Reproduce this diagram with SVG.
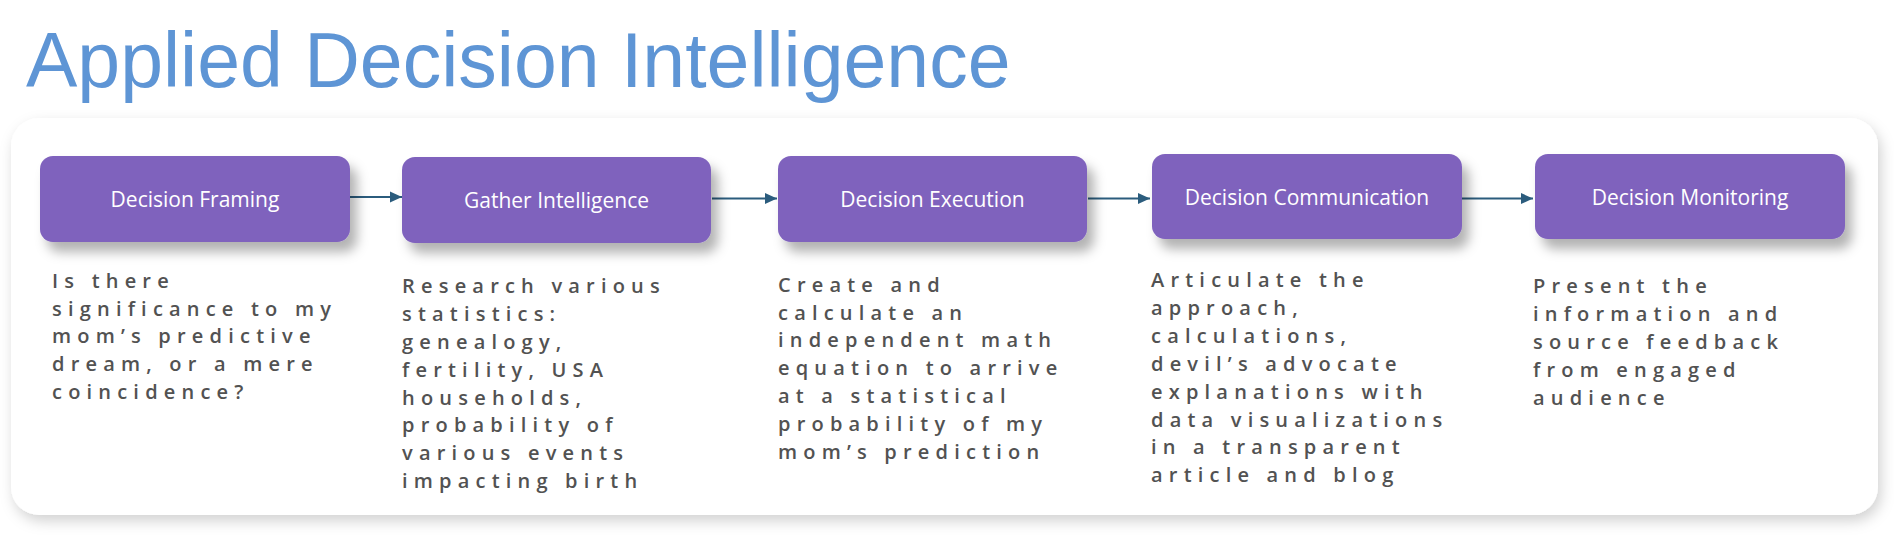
<svg xmlns="http://www.w3.org/2000/svg" width="1894" height="558" viewBox="0 0 1894 558">
<defs>
<filter id="panelShadow" x="-5%" y="-10%" width="110%" height="125%">
<feDropShadow dx="3" dy="6" stdDeviation="7" flood-color="#000" flood-opacity="0.18"/>
</filter>
<filter id="boxShadow" x="-10%" y="-20%" width="125%" height="160%">
<feDropShadow dx="7" dy="10" stdDeviation="6" flood-color="#000" flood-opacity="0.3"/>
</filter>
<marker id="arrow" viewBox="0 0 12 12" refX="12" refY="6" markerWidth="12" markerHeight="12" markerUnits="userSpaceOnUse" orient="auto">
<path d="M0,0.5 L12,6 L0,11.5 Z" fill="#2b5c7d"/>
</marker>
<style>
.title{font-family:"Liberation Sans",Arial,sans-serif;font-size:77px;fill:#5e95d5}
.box{fill:#7f62bd;filter:url(#boxShadow)}
.lbl{font-family:"Open Sans","Noto Sans",sans-serif;font-size:21px;font-weight:500;fill:#ffffff;text-anchor:middle}
.desc{font-family:"Open Sans","Noto Sans",sans-serif;font-size:20px;font-weight:600;letter-spacing:6.2px;fill:#525252}
.conn{stroke:#2b5c7d;stroke-width:2.2;fill:none;marker-end:url(#arrow)}
</style>
</defs>
<rect width="1894" height="558" fill="#ffffff"/>
<text class="title" x="26" y="87">Applied Decision Intelligence</text>
<rect x="11" y="118" width="1867" height="397" rx="28" ry="28" fill="#ffffff" filter="url(#panelShadow)"/>

<g id="connectors">
<line class="conn" x1="350" y1="197" x2="402" y2="197"/>
<line class="conn" x1="712" y1="198.5" x2="777" y2="198.5"/>
<line class="conn" x1="1088" y1="198.5" x2="1150" y2="198.5"/>
<line class="conn" x1="1462" y1="198.5" x2="1533" y2="198.5"/>
</g>

<g id="node-framing">
<rect class="box" x="40" y="156" width="310" height="86" rx="13"/>
<text class="lbl" x="195" y="206.5">Decision Framing</text>
<text class="desc" x="52" y="287.7"><tspan x="52">Is there</tspan><tspan x="52" dy="27.85">significance to my</tspan><tspan x="52" dy="27.85">mom’s predictive</tspan><tspan x="52" dy="27.85">dream, or a mere</tspan><tspan x="52" dy="27.85">coincidence?</tspan></text>
</g>

<g id="node-gather">
<rect class="box" x="402" y="157" width="309" height="86" rx="13"/>
<text class="lbl" x="556.5" y="208">Gather Intelligence</text>
<text class="desc" x="402" y="292.7"><tspan x="402">Research various</tspan><tspan x="402" dy="27.95">statistics:</tspan><tspan x="402" dy="27.95">genealogy,</tspan><tspan x="402" dy="27.95">fertility, USA</tspan><tspan x="402" dy="27.95">households,</tspan><tspan x="402" dy="27.95">probability of</tspan><tspan x="402" dy="27.95">various events</tspan><tspan x="402" dy="27.95">impacting birth</tspan></text>
</g>

<g id="node-execution">
<rect class="box" x="778" y="156" width="309" height="86" rx="13"/>
<text class="lbl" x="932.5" y="207">Decision Execution</text>
<text class="desc" x="778" y="291.7"><tspan x="778">Create and</tspan><tspan x="778" dy="27.85">calculate an</tspan><tspan x="778" dy="27.85">independent math</tspan><tspan x="778" dy="27.85">equation to arrive</tspan><tspan x="778" dy="27.85">at a statistical</tspan><tspan x="778" dy="27.85">probability of my</tspan><tspan x="778" dy="27.85">mom’s prediction</tspan></text>
</g>

<g id="node-communication">
<rect class="box" x="1152" y="154" width="310" height="85" rx="13"/>
<text class="lbl" x="1307" y="205">Decision Communication</text>
<text class="desc" x="1151" y="287.3"><tspan x="1151">Articulate the</tspan><tspan x="1151" dy="27.85">approach,</tspan><tspan x="1151" dy="27.85">calculations,</tspan><tspan x="1151" dy="27.85">devil’s advocate</tspan><tspan x="1151" dy="27.85">explanations with</tspan><tspan x="1151" dy="27.85">data visualizations</tspan><tspan x="1151" dy="27.85">in a transparent</tspan><tspan x="1151" dy="27.85">article and blog</tspan></text>
</g>

<g id="node-monitoring">
<rect class="box" x="1535" y="154" width="310" height="85" rx="13"/>
<text class="lbl" x="1690" y="205">Decision Monitoring</text>
<text class="desc" x="1533" y="293.3"><tspan x="1533">Present the</tspan><tspan x="1533" dy="27.95">information and</tspan><tspan x="1533" dy="27.95">source feedback</tspan><tspan x="1533" dy="27.95">from engaged</tspan><tspan x="1533" dy="27.95">audience</tspan></text>
</g>
</svg>
